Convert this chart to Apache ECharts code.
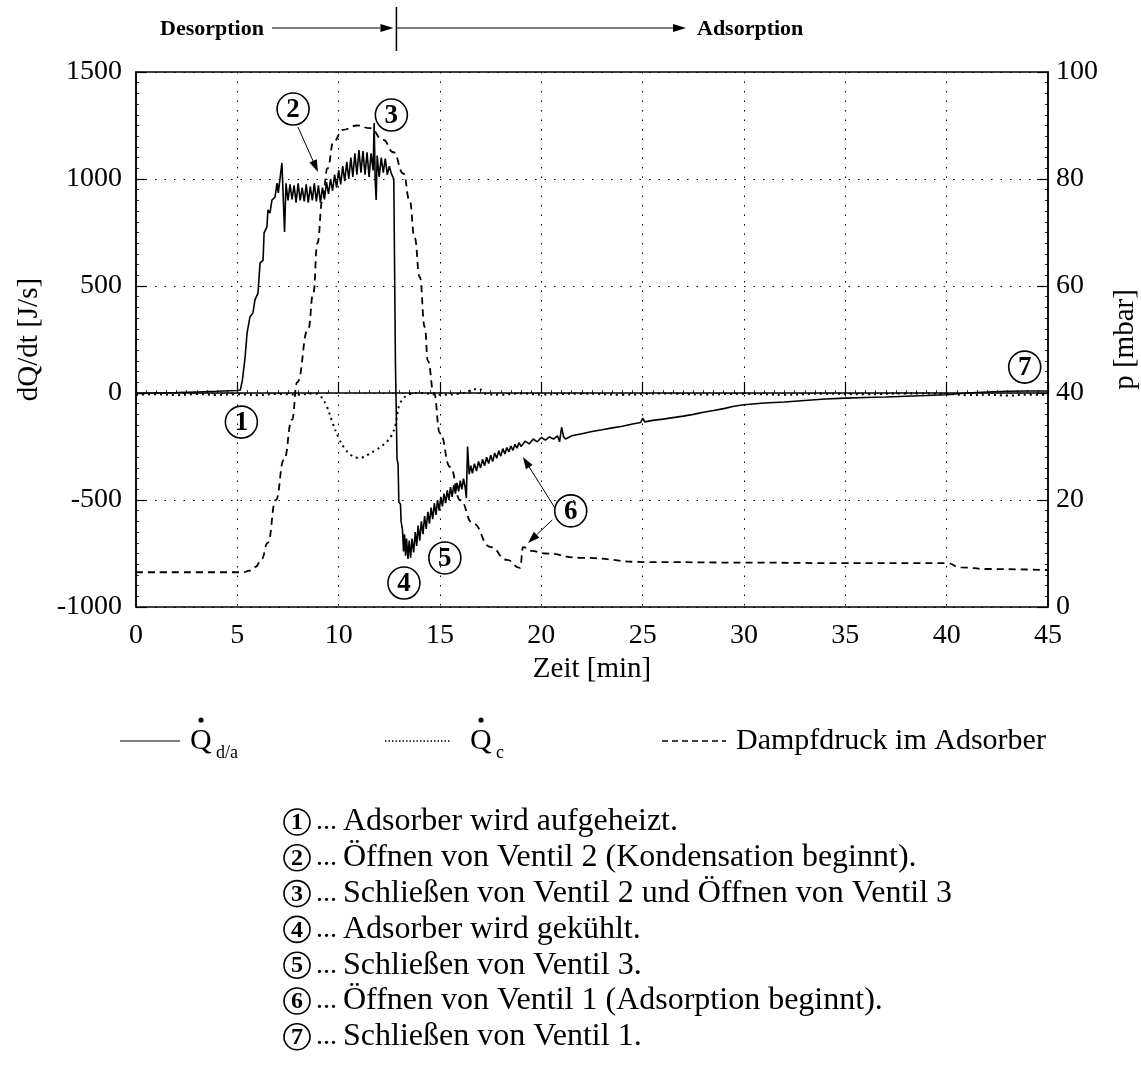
<!DOCTYPE html>
<html>
<head>
<meta charset="utf-8">
<script src="https://cdn.jsdelivr.net/npm/echarts@6.0.0/dist/echarts.min.js"></script>
<style>
  html, body { margin: 0; background: #fff; }
  #chart { width: 1141px; height: 1074px; }
</style>
</head>
<body>
<div id="chart"></div>
<script>
// Qd/a, heat flow adsorber [min, J/s]
var qdaPoints = [
  [0, -2], [1, 0], [2, 2], [3, 5], [4, 8], [5, 12], [5.15, 14],
  [5.25, 60], [5.38, 164], [5.48, 280], [5.62, 355], [5.77, 374], [5.87, 435],
  [6.02, 467], [6.12, 607], [6.27, 621], [6.32, 748], [6.46, 776], [6.51, 855],
  [6.61, 841], [6.71, 902], [6.86, 916], [6.96, 981], [7.02, 935], [7.2, 1075],
  [7.33, 752], [7.4, 980], [7.5, 900], [7.6, 975], [7.7, 905], [7.8, 970],
  [7.9, 890], [8.0, 980], [8.1, 900], [8.2, 960], [8.3, 895], [8.4, 975],
  [8.5, 890], [8.6, 965], [8.7, 900], [8.8, 980], [8.9, 895], [9.0, 970],
  [9.1, 890], [9.2, 960], [9.3, 905], [9.4, 985], [9.5, 930], [9.6, 1000],
  [9.7, 945], [9.8, 1020], [9.9, 960], [10.0, 1040], [10.1, 975], [10.2, 1060],
  [10.3, 990], [10.4, 1080], [10.5, 1000], [10.6, 1100], [10.7, 1010], [10.8, 1120],
  [10.9, 1020], [11.0, 1135], [11.1, 1030], [11.2, 1130], [11.3, 1020], [11.4, 1125],
  [11.5, 1010], [11.6, 1120], [11.7, 1040], [11.75, 1262], [11.8, 1000], [11.85, 902],
  [11.9, 1110], [12.0, 1010], [12.1, 1100], [12.2, 1030], [12.3, 1095], [12.4, 1020],
  [12.5, 1060], [12.6, 1025], [12.72, 1000], [12.8, 150], [12.88, -310], [12.93, -330],
  [12.97, -510], [13.05, -520], [13.08, -600], [13.15, -640], [13.2, -740], [13.25, -660],
  [13.3, -760], [13.35, -680], [13.42, -775], [13.48, -690], [13.55, -770], [13.62, -680],
  [13.7, -745], [13.78, -650], [13.85, -715], [13.92, -620], [14.0, -690], [14.08, -600],
  [14.16, -660], [14.24, -575], [14.32, -635], [14.4, -555], [14.48, -610], [14.56, -535],
  [14.64, -590], [14.72, -515], [14.8, -570], [14.88, -500], [14.96, -550], [15.04, -485],
  [15.12, -530], [15.2, -470], [15.28, -515], [15.36, -455], [15.44, -500], [15.52, -440],
  [15.6, -485], [15.68, -430], [15.76, -470], [15.84, -420], [15.92, -460], [16.0, -410],
  [16.08, -450], [16.16, -400], [16.24, -440], [16.3, -490], [16.36, -250], [16.44, -380],
  [16.52, -340], [16.6, -375], [16.7, -330], [16.8, -365], [16.9, -320], [17.0, -350],
  [17.1, -310], [17.2, -340], [17.3, -300], [17.4, -330], [17.5, -290], [17.6, -320],
  [17.7, -280], [17.8, -305], [17.9, -270], [18.0, -295], [18.1, -260], [18.2, -285],
  [18.3, -255], [18.4, -275], [18.5, -248], [18.6, -268], [18.7, -240], [18.8, -258],
  [18.9, -232], [19.0, -250], [19.2, -225], [19.4, -238], [19.6, -215], [19.8, -228],
  [20.0, -208], [20.2, -220], [20.4, -205], [20.6, -215], [20.8, -200], [20.9, -228],
  [21.0, -160], [21.1, -205], [21.2, -215], [21.5, -200], [22.0, -190], [22.5, -180],
  [23.0, -172], [23.5, -163], [24.0, -155], [24.5, -145], [24.9, -138], [25.0, -118],
  [25.1, -135], [25.5, -128], [26.0, -122], [26.5, -115], [27.0, -108], [27.5, -100],
  [28.0, -90], [28.5, -82], [29.0, -73], [29.5, -62], [30.0, -55], [31.0, -47],
  [32.0, -42], [33.0, -35], [34.0, -28], [35.0, -24], [36.0, -21], [37.0, -19],
  [38.0, -15], [39.0, -12], [40.0, -8], [41.0, 0], [42.0, 5], [43.0, 8], [44.0, 9], [45.0, 9]
];

// Qc, condenser [min, J/s]
var qcPoints = [
  [0, -8], [1, -6], [2, -10], [3, -5], [4, -9], [5, -6], [6, -10], [7, -4], [8, -8],
  [8.8, -2], [9.1, -15], [9.4, -60], [9.7, -140], [10.0, -210], [10.3, -260], [10.6, -290],
  [10.9, -302], [11.2, -300], [11.5, -285], [11.8, -268], [12.1, -250], [12.4, -225],
  [12.6, -200], [12.8, -150], [12.9, -95], [13.0, -55], [13.2, -25], [13.5, -5], [14, 0],
  [15, -8], [16, -3], [16.9, 20], [17.3, -5], [18, -8], [19, -2], [20, -7], [22, -3],
  [24, -8], [26, -2], [28, -7], [30, -4], [32, -8], [34, -3], [36, -6], [38, -2],
  [40, -4], [41, -10], [42, -8], [43, -12], [44, -8], [45, -9]
];

// Dampfdruck im Adsorber [min, mbar]
var pPoints = [
  [0, 6.5], [5, 6.5], [5.3, 6.5], [5.6, 6.8], [5.9, 7.5], [6.2, 9.0], [6.5, 12.0],
  [6.9, 20], [7.3, 27.5], [7.7, 35], [7.95, 42], [8.5, 52], [8.75, 58.7], [8.95, 68],
  [9.2, 76], [9.45, 82], [9.75, 87], [10.2, 89.2], [10.9, 90], [11.55, 89.5], [12.2, 87.3],
  [12.7, 85], [13.2, 81], [13.5, 76], [13.75, 69], [14.0, 61.7], [14.25, 52.3], [14.4, 46],
  [14.7, 40], [15.0, 32.5], [15.5, 26.2], [16.0, 20], [16.6, 15.7], [17.5, 11.2],
  [18.3, 8.8], [18.95, 7.3], [19.1, 11.2], [19.5, 10.5], [20.2, 10.0], [21.9, 9.2],
  [25.2, 8.4], [30, 8.3], [35, 8.2], [40, 8.2], [40.7, 7.4], [42, 7.1], [45, 6.9]
];

// annotation markers in data coordinates of the left axis
var markers = [
  ['1', 5.2, -136], ['2', 7.75, 1327], ['3', 12.6, 1299], ['4', 13.22, -888],
  ['5', 15.24, -771], ['6', 21.45, -551], ['7', 43.85, 121]
];
var arrows = [
  [[7.99, 1243], [8.98, 1033]],
  [[20.67, -537], [19.09, -299]],
  [[20.54, -593], [19.34, -701]]
];
var notes = [
  'Adsorber wird aufgeheizt.',
  'Öffnen von Ventil 2 (Kondensation beginnt).',
  'Schließen von Ventil 2 und Öffnen von Ventil 3',
  'Adsorber wird gekühlt.',
  'Schließen von Ventil 3.',
  'Öffnen von Ventil 1 (Adsorption beginnt).',
  'Schließen von Ventil 1.'
];

var FONT = '"Liberation Serif", "Times New Roman", serif';
var chart = echarts.init(document.getElementById('chart'));

var axisCommon = {
  axisLine: { lineStyle: { color: '#000', width: 1.5 } },
  axisTick: { inside: true, length: 11, lineStyle: { color: '#000', width: 1.2 } },
  minorTick: { show: true, splitNumber: 10, length: 3, lineStyle: { color: '#000', width: 0.8 } },
  axisLabel: { color: '#000', fontSize: 28, fontFamily: FONT, formatter: function (v) { return String(v) } },
  nameTextStyle: { color: '#000', fontSize: 29, fontFamily: FONT }
};

var option = {
  animation: false,
  backgroundColor: '#fff',
  grid: {
    left: 136, right: 93, top: 72, bottom: 467,
    containLabel: false, outerBoundsMode: 'none',
    show: true, borderColor: '#000', borderWidth: 1.5
  },
  xAxis: Object.assign({}, axisCommon, {
    type: 'value', min: 0, max: 45, interval: 5,
    name: 'Zeit [min]', nameLocation: 'middle', nameGap: 48,
    axisLabel: Object.assign({}, axisCommon.axisLabel, { margin: 15 }),
    splitLine: { show: true, lineStyle: { color: '#000', width: 1, type: [1.5, 8] } }
  }),
  yAxis: [
    Object.assign({}, axisCommon, {
      type: 'value', min: -1000, max: 1500, interval: 500,
      name: 'dQ/dt [J/s]', nameLocation: 'middle', nameGap: 92, nameRotate: 90,
      axisLabel: Object.assign({}, axisCommon.axisLabel, { margin: 14 }),
      splitLine: { show: true, lineStyle: { color: '#000', width: 1, type: [1.5, 8] } }
    }),
    Object.assign({}, axisCommon, {
      type: 'value', min: 0, max: 100, interval: 20, position: 'right',
      name: 'p [mbar]', nameLocation: 'middle', nameGap: 63, nameRotate: 90,
      axisLabel: Object.assign({}, axisCommon.axisLabel, { margin: 8 }),
      splitLine: { show: false }
    })
  ],
  series: [
    {
      name: 'Qd/a', type: 'line', data: qdaPoints, yAxisIndex: 0,
      symbol: 'none', lineStyle: { color: '#000', width: 1.6 }, z: 4
    },
    {
      name: 'Qc', type: 'line', data: qcPoints, yAxisIndex: 0,
      symbol: 'none', smooth: 0.4,
      lineStyle: { color: '#000', width: 2, type: [2, 4] }, z: 3
    },
    {
      name: 'Dampfdruck im Adsorber', type: 'line', data: pPoints, yAxisIndex: 1,
      symbol: 'none', smooth: 0.5, smoothMonotone: 'x',
      lineStyle: { color: '#000', width: 1.8, type: [7, 5] }, z: 3
    }
  ]
};
chart.setOption(option);

function circled(label, cx, cy, r, fs) {
  return [
    { type: 'circle', shape: { cx: cx, cy: cy, r: r }, style: { fill: 'none', stroke: '#000', lineWidth: 1.6 }, z: 10 },
    { type: 'text', x: cx, y: cy + 1, style: { text: label, align: 'center', verticalAlign: 'middle', font: 'bold ' + fs + 'px ' + FONT, fill: '#000' }, z: 10 }
  ];
}

function arrow(p0, p1, len, half, width) {
  var dx = p1[0] - p0[0], dy = p1[1] - p0[1];
  var d = Math.sqrt(dx * dx + dy * dy);
  var ux = dx / d, uy = dy / d;
  var bx = p1[0] - ux * len, by = p1[1] - uy * len;
  return [
    { type: 'line', shape: { x1: p0[0], y1: p0[1], x2: bx, y2: by }, style: { stroke: '#000', lineWidth: width }, z: 10 },
    { type: 'polygon', shape: { points: [p1, [bx - uy * half, by + ux * half], [bx + uy * half, by - ux * half]] }, style: { fill: '#000' }, z: 10 }
  ];
}

var g = [];
markers.forEach(function (m) {
  var p = chart.convertToPixel({ xAxisIndex: 0, yAxisIndex: 0 }, [m[1], m[2]]);
  g = g.concat(circled(m[0], p[0], p[1], 16, 27));
});
arrows.forEach(function (a) {
  var p0 = chart.convertToPixel({ xAxisIndex: 0, yAxisIndex: 0 }, a[0]);
  var p1 = chart.convertToPixel({ xAxisIndex: 0, yAxisIndex: 0 }, a[1]);
  g = g.concat(arrow(p0, p1, 12, 4, 1));
});

// phase bar above the plot
var split = chart.convertToPixel({ xAxisIndex: 0, yAxisIndex: 0 }, [12.85, 0])[0];
g.push({ type: 'text', x: 160, y: 29, style: { text: 'Desorption', verticalAlign: 'middle', font: 'bold 22px ' + FONT, fill: '#000' } });
g.push({ type: 'text', x: 697, y: 29, style: { text: 'Adsorption', verticalAlign: 'middle', font: 'bold 22px ' + FONT, fill: '#000' } });
g = g.concat(arrow([272, 28], [split - 3, 28], 13, 4, 1.2));
g = g.concat(arrow([split, 28], [686, 28], 13, 4, 1.2));
g.push({ type: 'line', shape: { x1: split, y1: 7, x2: split, y2: 51 }, style: { stroke: '#000', lineWidth: 1.5 } });

// legend
var legY = 741;
function qDot(x, sub) {
  return [
    { type: 'text', x: x, y: legY, style: { text: 'Q', verticalAlign: 'middle', font: '30px ' + FONT, fill: '#000' } },
    { type: 'circle', shape: { cx: x + 11, cy: legY - 21, r: 2.6 }, style: { fill: '#000' } },
    { type: 'text', x: x + 26, y: legY + 12, style: { text: sub, verticalAlign: 'middle', font: '18px ' + FONT, fill: '#000' } }
  ];
}
g.push({ type: 'line', shape: { x1: 120, y1: legY, x2: 180, y2: legY }, style: { stroke: '#000', lineWidth: 1.2 } });
g = g.concat(qDot(190, 'd/a'));
g.push({ type: 'line', shape: { x1: 385, y1: legY, x2: 450, y2: legY }, style: { stroke: '#000', lineWidth: 1.5, lineDash: [1.5, 2] } });
g = g.concat(qDot(470, 'c'));
g.push({ type: 'line', shape: { x1: 662, y1: legY, x2: 726, y2: legY }, style: { stroke: '#000', lineWidth: 1.5, lineDash: [6, 4] } });
g.push({ type: 'text', x: 736, y: legY, style: { text: 'Dampfdruck im Adsorber', verticalAlign: 'middle', font: '30px ' + FONT, fill: '#000' } });

// explanation list
notes.forEach(function (t, i) {
  var y = 822 + i * 35.8;
  g = g.concat(circled(String(i + 1), 297, y, 13, 24));
  g.push({ type: 'text', x: 316, y: y, style: { text: '...', verticalAlign: 'middle', font: '28px ' + FONT, fill: '#000' } });
  g.push({ type: 'text', x: 343, y: y, style: { text: t, verticalAlign: 'middle', font: '32px ' + FONT, fill: '#000' } });
});

chart.setOption({ graphic: g });
</script>
</body>
</html>
